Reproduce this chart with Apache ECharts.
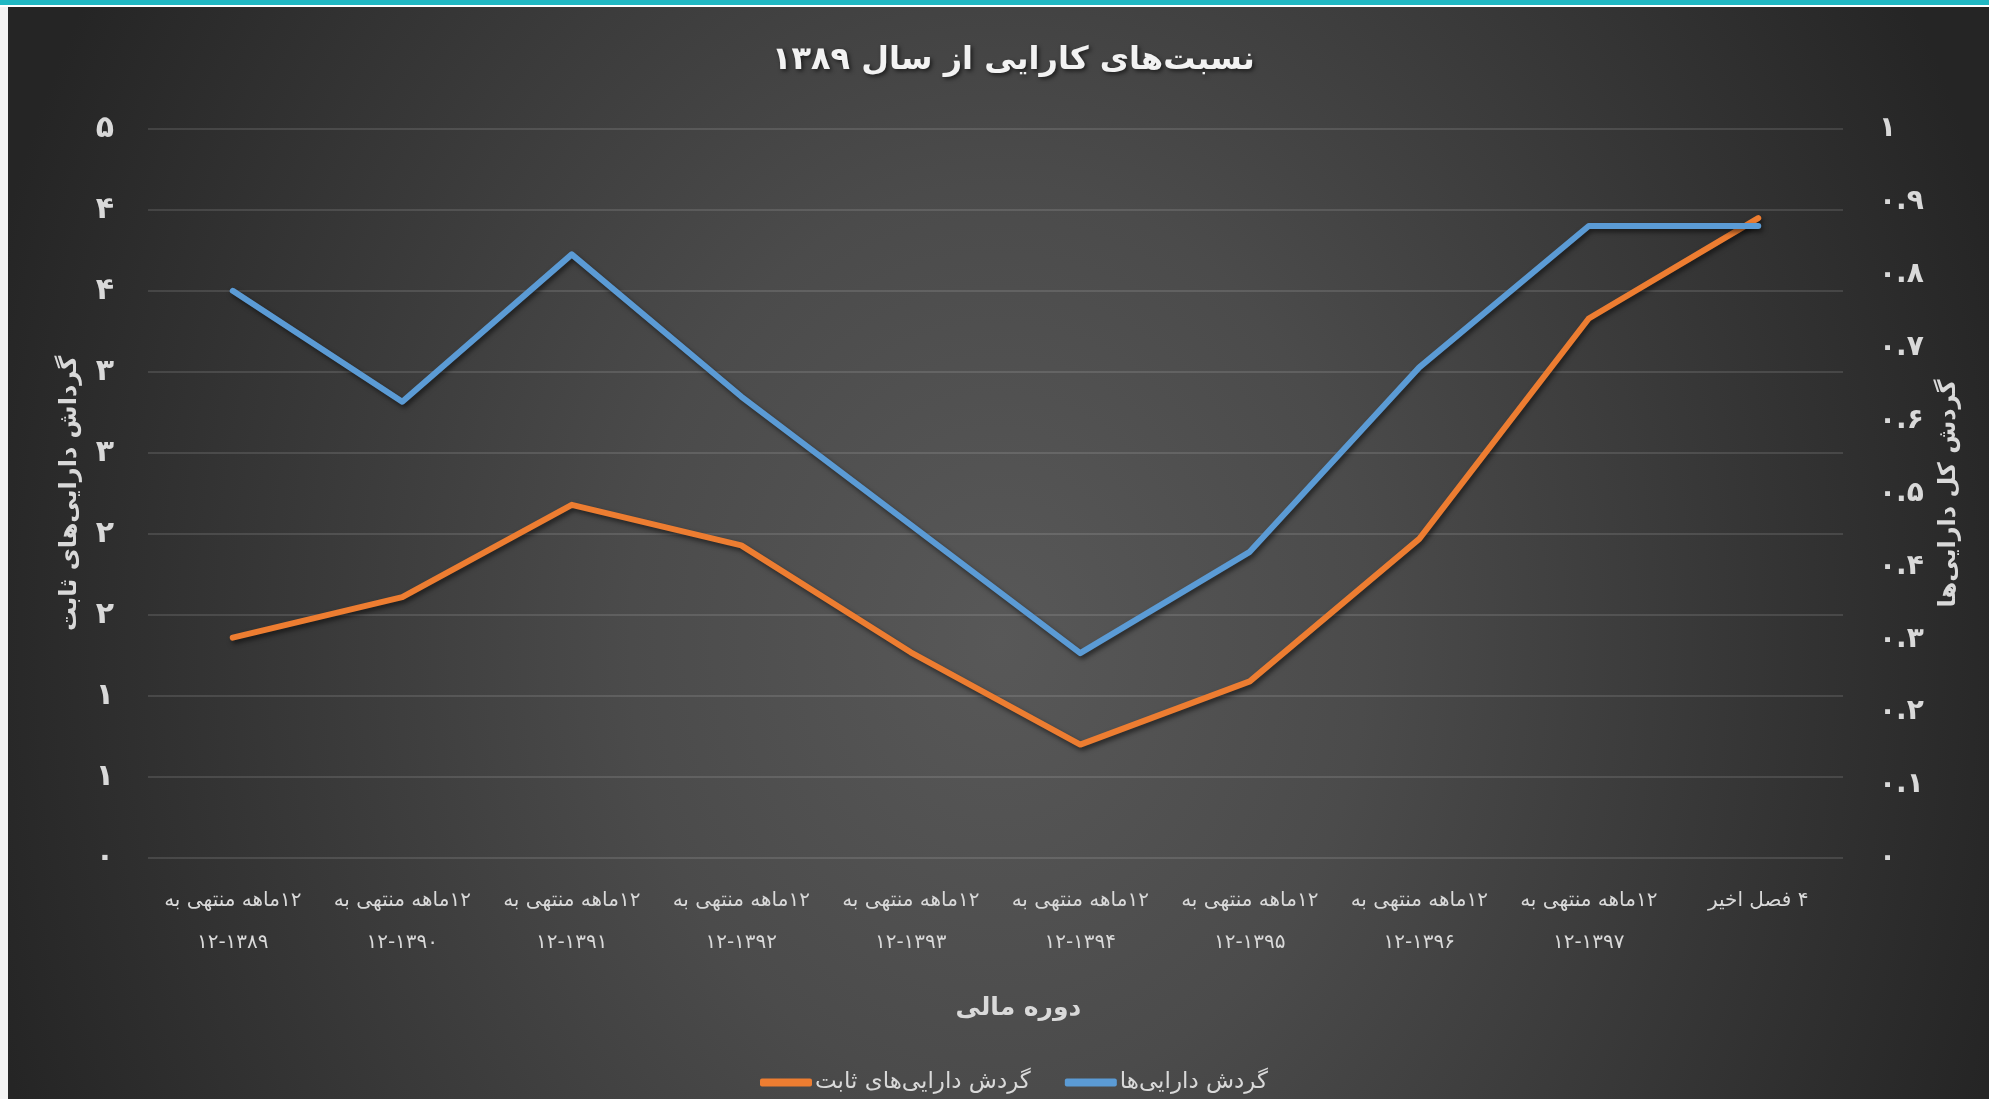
<!DOCTYPE html>
<html>
<head>
<meta charset="utf-8">
<script src="https://cdn.jsdelivr.net/npm/echarts@6/dist/echarts.min.js"></script>
<style>
  html, body { margin: 0; padding: 0; width: 1989px; height: 1099px; overflow: hidden; background: #f2f2f2; }
  #topbar { position: absolute; left: 0; top: 0; width: 1989px; height: 5px; background: #20b8c3; }
  #topline { position: absolute; left: 0; top: 5px; width: 1989px; height: 2px; background: #ffffff; }
  #chart { position: absolute; left: 8px; top: 7px; width: 1981px; height: 1092px;
    background: radial-gradient(ellipse 1050px 1300px at 50% 58%, #585858 0%, #4b4b4b 35%, #252525 100%); }
</style>
</head>
<body>
<div id="topbar"></div>
<div id="topline"></div>
<div id="chart"></div>
<script>
// ---- data ----
const periodPrefix = '\u200F۱۲ماهه منتهی به';
const periods = ['۱۲-۱۳۸۹', '۱۲-۱۳۹۰', '۱۲-۱۳۹۱', '۱۲-۱۳۹۲', '۱۲-۱۳۹۳', '۱۲-۱۳۹۴', '۱۲-۱۳۹۵', '۱۲-۱۳۹۶', '۱۲-۱۳۹۷'];
const lastPeriod = '\u200F۴ فصل اخیر';
const categories = periods.map(p => periodPrefix + '\n' + p).concat([lastPeriod]);

const fixedAssetTurnoverName = 'گردش دارایی‌های ثابت';
const fixedAssetTurnover = [1.36, 1.61, 2.18, 1.93, 1.27, 0.70, 1.09, 1.97, 3.33, 3.95];

const assetTurnoverName = 'گردش دارایی‌ها';
const assetTurnover = [0.778, 0.626, 0.828, 0.633, 0.457, 0.281, 0.420, 0.673, 0.867, 0.867];

const leftTickLabels = ['۰', '۱', '۱', '۲', '۲', '۳', '۳', '۴', '۴', '۵'];
const rightTickLabels = ['۰', '۰.۱', '۰.۲', '۰.۳', '۰.۴', '۰.۵', '۰.۶', '۰.۷', '۰.۸', '۰.۹', '۱'];

const titleText = 'نسبت‌های کارایی از سال ۱۳۸۹';
const xAxisName = 'دوره مالی';
const leftAxisName = 'گرداش دارایی‌های ثابت';
const rightAxisName = 'گردش کل دارایی‌ها';

// ---- chart ----
const FONT = 'DejaVu Sans';
const chart = echarts.init(document.getElementById('chart'), null, { renderer: 'canvas' });
const lineShadow = { shadowColor: 'rgba(0,0,0,0.55)', shadowBlur: 5, shadowOffsetX: 2, shadowOffsetY: 3 };

chart.setOption({
  backgroundColor: 'transparent',
  animation: false,
  title: {
    text: titleText,
    left: 759,
    top: 33,
    textStyle: {
      fontFamily: FONT, fontSize: 32, fontWeight: 'bold', color: '#f2f2f2',
      textShadowColor: 'rgba(0,0,0,0.6)', textShadowBlur: 4, textShadowOffsetX: 2, textShadowOffsetY: 2
    }
  },
  legend: {
    data: [fixedAssetTurnoverName, assetTurnoverName],
    left: 747,
    bottom: 0,
    itemWidth: 52,
    itemHeight: 8,
    itemGap: 34,
    icon: 'roundRect',
    textStyle: { fontFamily: FONT, fontSize: 23, color: '#d9d9d9', padding: [0, 0, 0, -2] }
  },
  grid: { left: 140, right: 146, top: 122, bottom: 241 },
  xAxis: {
    type: 'category',
    data: categories,
    boundaryGap: true,
    name: xAxisName,
    nameLocation: 'middle',
    nameGap: 138,
    nameTextStyle: { fontFamily: FONT, fontSize: 25, fontWeight: 'bold', color: '#d9d9d9', padding: [0, 0, 0, 46] },
    axisLine: { show: false },
    axisTick: { show: false },
    axisLabel: { interval: 0, margin: 22, fontFamily: FONT, fontSize: 20, lineHeight: 42, color: '#d9d9d9' }
  },
  yAxis: [
    {
      type: 'value', min: 0, max: 4.5, interval: 0.5, position: 'left',
      name: leftAxisName, nameLocation: 'middle', nameRotate: 90, nameGap: 66,
      nameTextStyle: { fontFamily: FONT, fontSize: 24, fontWeight: 'bold', color: '#d9d9d9' },
      axisLine: { show: false }, axisTick: { show: false },
      axisLabel: {
        margin: 34, fontFamily: FONT, fontSize: 30, fontWeight: 'bold', color: '#d9d9d9',
        formatter: v => leftTickLabels[Math.round(v / 0.5)]
      },
      splitLine: { show: true, lineStyle: { color: 'rgba(255,255,255,0.16)', width: 1.5 } }
    },
    {
      type: 'value', min: 0, max: 1, interval: 0.1, position: 'right',
      name: rightAxisName, nameLocation: 'middle', nameRotate: 90, nameGap: 94,
      nameTextStyle: { fontFamily: FONT, fontSize: 24, fontWeight: 'bold', color: '#d9d9d9' },
      axisLine: { show: false }, axisTick: { show: false },
      axisLabel: {
        margin: 36, fontFamily: FONT, fontSize: 28, fontWeight: 'bold', color: '#d9d9d9',
        formatter: v => rightTickLabels[Math.round(v / 0.1)]
      },
      splitLine: { show: false }
    }
  ],
  series: [
    {
      name: fixedAssetTurnoverName, type: 'line', yAxisIndex: 0, data: fixedAssetTurnover,
      symbol: 'none', smooth: false, color: '#ED7D31',
      lineStyle: Object.assign({ width: 6, color: '#ED7D31', cap: 'round', join: 'round' }, lineShadow)
    },
    {
      name: assetTurnoverName, type: 'line', yAxisIndex: 1, data: assetTurnover,
      symbol: 'none', smooth: false, color: '#5B9BD5',
      lineStyle: Object.assign({ width: 6, color: '#5B9BD5', cap: 'round', join: 'round' }, lineShadow)
    }
  ]
});
</script>
</body>
</html>
